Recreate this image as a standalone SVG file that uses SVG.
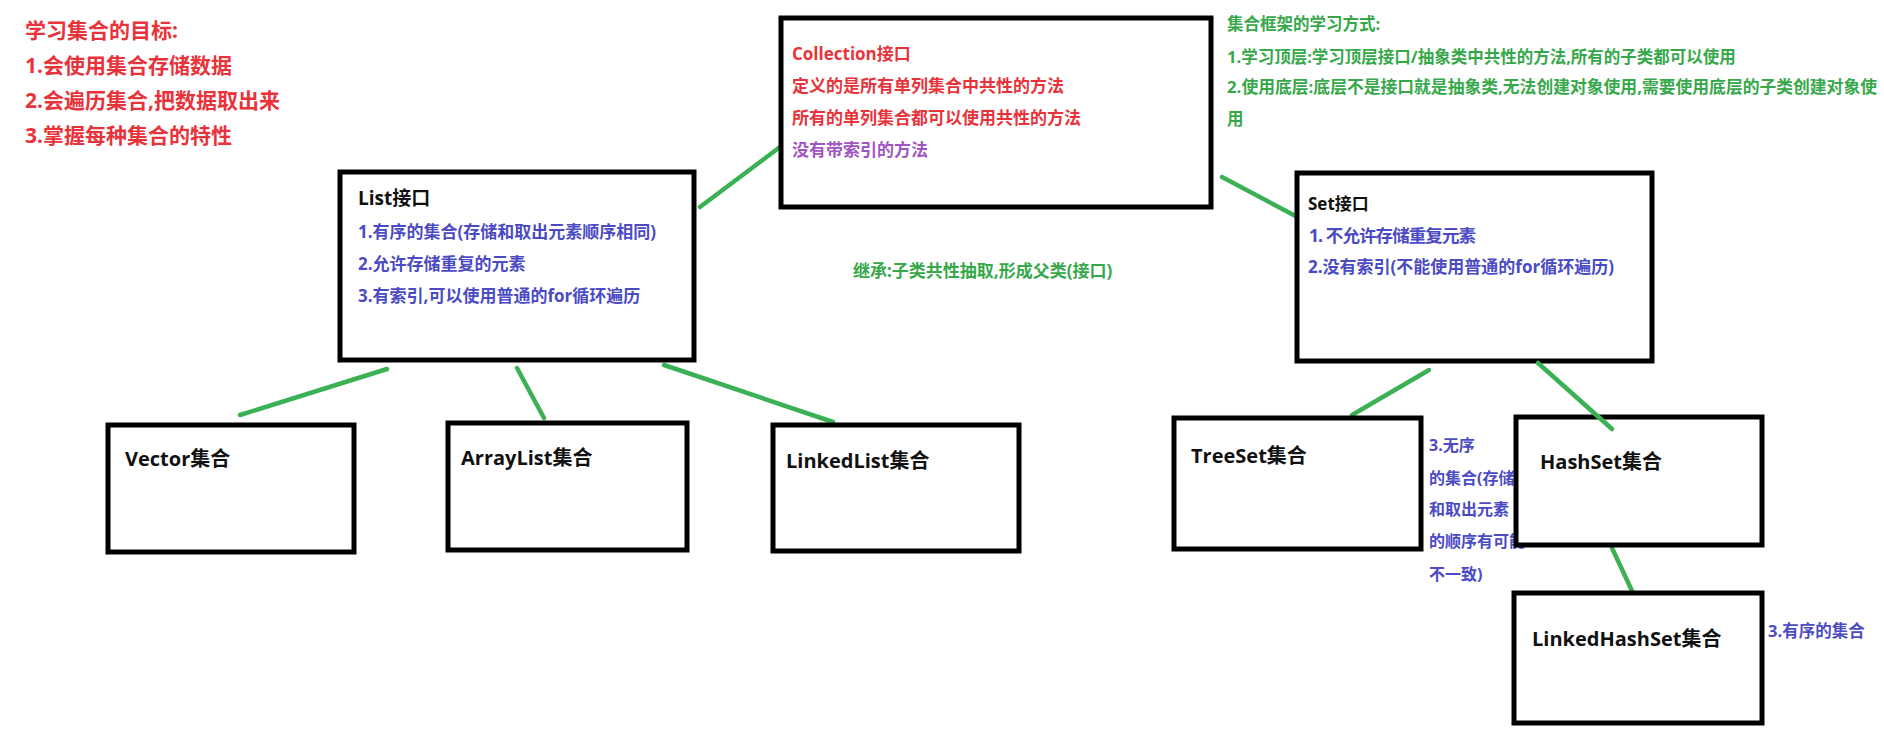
<svg xmlns="http://www.w3.org/2000/svg" width="1884" height="730" viewBox="0 0 1884 730">
<style>
text{font-family:"Open Sans","Noto Sans CJK SC",sans-serif;font-weight:bold}
.box{fill:#ffffff;stroke:#000000;stroke-width:5}
.red{fill:#e8333b}
.blue{fill:#4b4bc4}
.green{fill:#36a84a}
.purple{fill:#a155c2}
.blk{fill:#111111}
.conn line{stroke:#3cb054;stroke-width:4.5;stroke-linecap:round}
</style>
<rect width="1884" height="730" fill="#ffffff"/>
<g id="goals" font-size="21">
<text class="red" x="25" y="38">学习集合的目标:</text>
<text class="red" x="25" y="73">1.会使用集合存储数据</text>
<text class="red" x="25" y="108">2.会遍历集合,把数据取出来</text>
<text class="red" x="25" y="143">3.掌握每种集合的特性</text>
</g>
<g id="method" font-size="16.5">
<text class="green" x="1227" y="30">集合框架的学习方式:</text>
<text class="green" x="1227" y="63">1.学习顶层:学习顶层接口/抽象类中共性的方法,所有的子类都可以使用</text>
<text class="green" x="1227" y="93" textLength="650" lengthAdjust="spacingAndGlyphs">2.使用底层:底层不是接口就是抽象类,无法创建对象使用,需要使用底层的子类创建对象使</text>
<text class="green" x="1227" y="125">用</text>
</g>
<g id="inherit">
<text class="green" x="853" y="277" font-size="17">继承:子类共性抽取,形成父类(接口)</text>
</g>
<g class="conn" id="connectors">
<line x1="700" y1="207" x2="780" y2="147"/>
<line x1="1222" y1="177" x2="1303" y2="220"/>
<line x1="387" y1="369" x2="240" y2="415"/>
<line x1="517" y1="368" x2="544" y2="418"/>
<line x1="664" y1="365" x2="833" y2="422"/>
<line x1="1429" y1="370" x2="1352" y2="415"/>
<line x1="1612" y1="548" x2="1633" y2="593"/>
</g>
<g id="collection">
<rect class="box" x="781" y="18" width="430" height="189"/>
<text class="red" x="792" y="60" font-size="17">Collection接口</text>
<text class="red" x="792" y="92" font-size="17">定义的是所有单列集合中共性的方法</text>
<text class="red" x="792" y="124" font-size="17">所有的单列集合都可以使用共性的方法</text>
<text class="purple" x="792" y="156" font-size="17">没有带索引的方法</text>
</g>
<g id="list">
<rect class="box" x="340" y="172" width="354" height="188"/>
<text class="blk" x="358" y="205" font-size="19">List接口</text>
<text class="blue" x="358" y="238" font-size="17">1.有序的集合(存储和取出元素顺序相同)</text>
<text class="blue" x="358" y="270" font-size="17">2.允许存储重复的元素</text>
<text class="blue" x="358" y="302" font-size="17">3.有索引,可以使用普通的for循环遍历</text>
</g>
<g id="set">
<rect class="box" x="1297" y="173" width="355" height="188"/>
<text class="blk" x="1308" y="210" font-size="17">Set接口</text>
<text class="blue" x="1309" y="242" font-size="17.5" textLength="167" lengthAdjust="spacing">1. 不允许存储重复元素</text>
<text class="blue" x="1308" y="273" font-size="17">2.没有索引(不能使用普通的for循环遍历)</text>
</g>
<g id="vector">
<rect class="box" x="108" y="425" width="246" height="127"/>
<text class="blk" x="125" y="466" font-size="20">Vector集合</text>
</g>
<g id="arraylist">
<rect class="box" x="448" y="423" width="239" height="127"/>
<text class="blk" x="461" y="465" font-size="20">ArrayList集合</text>
</g>
<g id="linkedlist">
<rect class="box" x="773" y="425" width="246" height="126"/>
<text class="blk" x="786" y="468" font-size="20">LinkedList集合</text>
</g>
<g id="treeset">
<rect class="box" x="1174" y="418" width="247" height="131"/>
<text class="blk" x="1191" y="463" font-size="20">TreeSet集合</text>
</g>
<g id="unordered-note" font-size="16">
<text class="blue" x="1429" y="451">3.无序</text>
<text class="blue" x="1429" y="484">的集合(存储</text>
<text class="blue" x="1429" y="515">和取出元素</text>
<text class="blue" x="1429" y="547">的顺序有可能</text>
<text class="blue" x="1429" y="580">不一致)</text>
</g>
<g id="hashset">
<rect class="box" x="1516" y="417" width="246" height="128"/>
<text class="blk" x="1540" y="469" font-size="20">HashSet集合</text>
</g>
<g class="conn" id="connector-set-hashset">
<line x1="1538" y1="363" x2="1612" y2="429"/>
</g>
<g id="linkedhashset">
<rect class="box" x="1514" y="593" width="248" height="130"/>
<text class="blk" x="1532" y="646" font-size="20">LinkedHashSet集合</text>
</g>
<g id="ordered-note">
<text class="blue" x="1768" y="637" font-size="16.5">3.有序的集合</text>
</g>
</svg>
